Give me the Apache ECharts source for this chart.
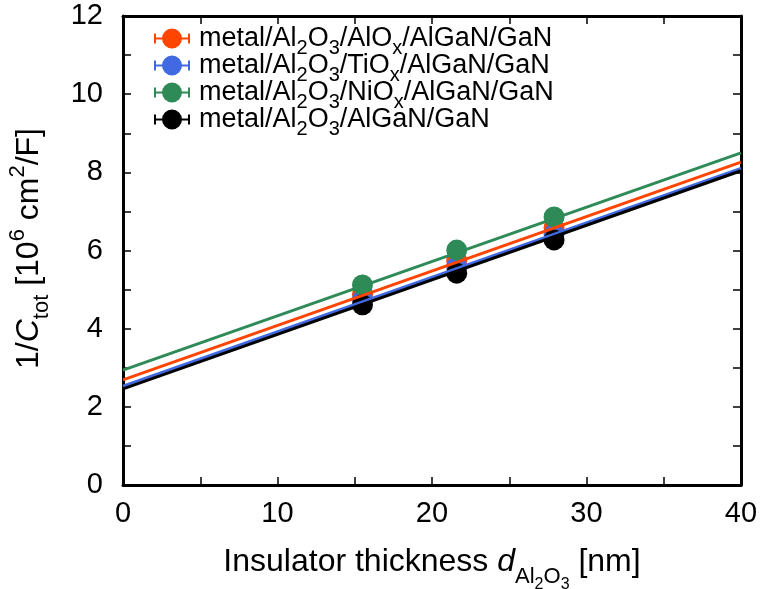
<!DOCTYPE html>
<html>
<head>
<meta charset="utf-8">
<script src="https://cdn.jsdelivr.net/npm/echarts@6/dist/echarts.min.js"></script>
<style>html,body{margin:0;padding:0;background:#fff;}#c{width:766px;height:589px;}</style>
</head>
<body>
<div id="c"></div>
<script>
// ---- data ----
const seriesNames = ['AlOx', 'TiOx', 'NiOx', 'none'];
const thickness = [15.5, 21.6, 27.9];           // nm
const ptsAlOx = [4.88, 5.74, 6.58];
const ptsTiOx = [4.74, 5.58, 6.42];
const ptsNiOx = [5.12, 6.01, 6.86];
const ptsNone = [4.61, 5.42, 6.27];
const fitX = [0, 40];
const fitAlOx = [2.69, 8.26];
const fitTiOx = [2.53, 8.10];
const fitNiOx = [2.94, 8.50];
const fitNone = [2.46, 8.04];
const xTicks = [0, 10, 20, 30, 40];
const yTicks = [0, 2, 4, 6, 8, 10, 12];

const colors = ['#ff4500', '#4169e1', '#2e8b57', '#000000'];
const legendLabels = [
  'metal/Al{sub|2}O{sub|3}/AlO{sub|x}/AlGaN/GaN',
  'metal/Al{sub|2}O{sub|3}/TiO{sub|x}/AlGaN/GaN',
  'metal/Al{sub|2}O{sub|3}/NiO{sub|x}/AlGaN/GaN',
  'metal/Al{sub|2}O{sub|3}/AlGaN/GaN'
];
const pts = [ptsAlOx, ptsTiOx, ptsNiOx, ptsNone];
const fits = [fitAlOx, fitTiOx, fitNiOx, fitNone];

const FONT = '"Liberation Sans", Arial, Helvetica, sans-serif';
const icon = 'path://M0,9 L36,9 L36,11 L0,11 Z M0,5 L2,5 L2,15 L0,15 Z M34,5 L36,5 L36,15 L34,15 Z M8,10 A10,10 0 1,1 28,10 A10,10 0 1,1 8,10 Z';

const series = [];
pts.forEach((p, i) => {
  series.push({
    name: seriesNames[i],
    type: 'scatter',
    data: thickness.map((t, k) => [t, p[k]]),
    symbol: 'circle',
    symbolSize: 21,
    itemStyle: { color: colors[i], opacity: 1 },
    z: 2,
    silent: true
  });
});
fits.forEach((f, i) => {
  series.push({
    name: seriesNames[i] + ' fit',
    type: 'line',
    data: fitX.map((x, k) => [x, f[k]]),
    symbol: 'none',
    lineStyle: { color: colors[i], width: 3 },
    z: 3,
    silent: true
  });
});

const axisCommon = {
  axisLine: { show: true, onZero: false, lineStyle: { color: '#000', width: 3 } },
  axisTick: { show: true, inside: true, length: 8, lineStyle: { color: '#000', width: 1.5 } },
  minorTick: { show: true, splitNumber: 2, length: 8, lineStyle: { color: '#000', width: 1.5 } },
  splitLine: { show: false },
  minorSplitLine: { show: false }
};

const richText = {
  sub: { fontSize: 22, fontFamily: FONT, color: '#000', height: 6, verticalAlign: 'bottom' },
  sup: { fontSize: 22, fontFamily: FONT, color: '#000', height: 10, verticalAlign: 'top' },
  it: { fontSize: 32, fontFamily: FONT, color: '#000', fontStyle: 'italic' },
  isub: { fontSize: 22, fontFamily: FONT, color: '#000', height: 2, verticalAlign: 'bottom' },
  isub2: { fontSize: 16, fontFamily: FONT, color: '#000', height: -14, verticalAlign: 'bottom' }
};

const option = {
  animation: false,
  backgroundColor: '#fff',
  grid: { left: 123, right: 25, top: 16, bottom: 104, containLabel: false, outerBoundsMode: 'none' },
  legend: {
    orient: 'vertical',
    left: 149,
    top: 20,
    itemWidth: 36,
    itemHeight: 20,
    itemGap: -6.5,
    data: seriesNames.map((n, i) => ({ name: n, icon: icon, itemStyle: { color: colors[i] } })),
    formatter: function (name) { return legendLabels[seriesNames.indexOf(name)]; },
    textStyle: {
      fontSize: 27, fontFamily: FONT, color: '#000', lineHeight: 22, padding: [0, 0, 0, 4],
      rich: {
        sub: { fontSize: 20, fontFamily: FONT, color: '#000', height: 2, verticalAlign: 'bottom' }
      }
    },
    selectedMode: false
  },
  xAxis: [
    Object.assign({
      type: 'value', min: 0, max: 40, interval: 10, position: 'bottom',
      axisLabel: { fontSize: 29, fontFamily: FONT, color: '#000', margin: 14,
        customValues: xTicks },
      name: 'Insulator thickness {it|d}{isub|Al}{isub2|2}{isub|O}{isub2|3} [nm]',
      nameLocation: 'middle', nameGap: 61,
      nameTextStyle: { fontSize: 32, fontFamily: FONT, color: '#000', rich: richText }
    }, axisCommon),
    Object.assign({
      type: 'value', min: 0, max: 40, interval: 10, position: 'top',
      axisLabel: { show: false }
    }, axisCommon)
  ],
  yAxis: [
    Object.assign({
      type: 'value', min: 0, max: 12, interval: 2, position: 'left',
      axisLabel: { fontSize: 29, fontFamily: FONT, color: '#000', margin: 20,
        customValues: yTicks },
      name: '1/{it|C}{sub|tot} [10{sup|6} cm{sup|2}/F]',
      nameLocation: 'middle', nameGap: 78, nameRotate: 90,
      nameTextStyle: { fontSize: 32, fontFamily: FONT, color: '#000', rich: richText, padding: [0, 0, 0, 4] }
    }, axisCommon),
    Object.assign({
      type: 'value', min: 0, max: 12, interval: 2, position: 'right',
      axisLabel: { show: false }
    }, axisCommon)
  ],
  series: series
};

const chart = echarts.init(document.getElementById('c'), null, { renderer: 'canvas' });
chart.setOption(option);
</script>
</body>
</html>
